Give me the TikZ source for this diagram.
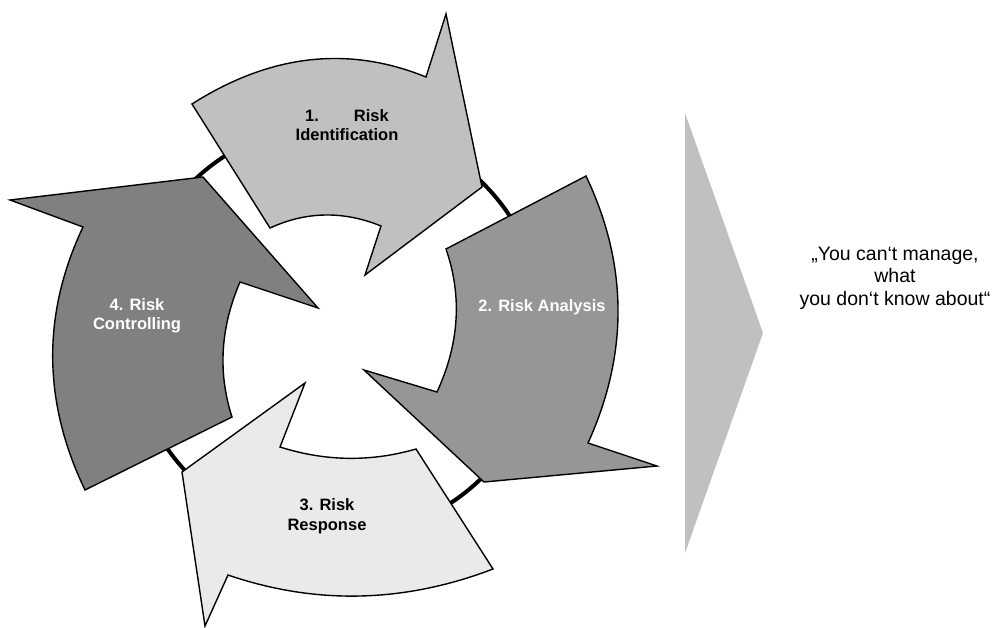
\documentclass[tikz,border=0pt]{standalone}
\usepackage{fontspec}
\setmainfont{Liberation Sans}
\usepackage{tikz}
\definecolor{identgray}{HTML}{C0C0C0}
\definecolor{analysisgray}{HTML}{969696}
\definecolor{responsegray}{HTML}{EAEAEA}
\definecolor{controlgray}{HTML}{808080}
\definecolor{chevrongray}{HTML}{C0C0C0}
\begin{document}
\begin{tikzpicture}[x=1pt,y=-1pt,
  phase/.style={draw=black, line width=1.4pt, line join=miter},
  phaselabel/.style={font=\fontsize{16.5}{19.5}\selectfont\bfseries, align=center}]
\tikzstyle{every node}+=[inner sep=0pt]
\useasboundingbox (0,0) rectangle (996,627);
\draw [black, line width=4pt] (337,330) circle [radius=207pt];
\draw [phase, fill=identgray] (192,104) .. controls (270,54.3) and (348,45.3) .. (426,77) -- (446,14) -- (482,187) -- (365,275) -- (381,226) .. controls (343.3,210.7) and (306.3,211.3) .. (270,228) -- cycle;
\draw [phase, fill=analysisgray] (586,176) .. controls (628,264.3) and (628.7,353.3) .. (588,443) -- (657,466) -- (484,482) -- (364,370) -- (437,392) .. controls (459.3,343.7) and (462.3,296) .. (446,249) -- cycle;
\draw [phase, fill=responsegray] (493,569) .. controls (404,603) and (315.7,605) .. (228,575) -- (205,626) -- (182,472) -- (305,383) -- (280,447) .. controls (325.3,461.4) and (370.7,462.1) .. (416,449) -- cycle;
\draw [phase, fill=controlgray] (203,177) -- (318,308) -- (240,282) .. controls (220.4,327.7) and (217.7,372.7) .. (232,417) -- (85,490) .. controls (42.6,401.7) and (41.9,314) .. (83,227) -- (10,200) -- cycle;
\fill [chevrongray] (685,113) -- (763,333) -- (685,553) -- cycle;
\node [phaselabel] (ident) at (347,125) {1.\hspace{35pt}Risk\\Identification};
\node [phaselabel, text=white] (analysis) at (542,307) {2. Risk Analysis};
\node [phaselabel] (response) at (327,516) {3. Risk\\Response};
\node [phaselabel, text=white] (control) at (137,316) {4. Risk\\Controlling};
\node [font=\fontsize{19.5}{22.5}\selectfont, align=center] (quote) at (895,278) {„You can‘t manage,\\what\\you don‘t know about“};
\end{tikzpicture}
\end{document}
